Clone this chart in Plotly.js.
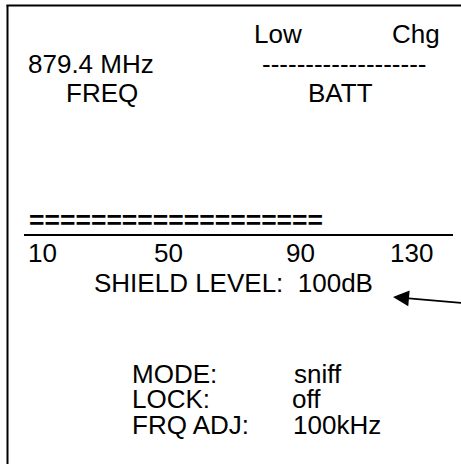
<!DOCTYPE html>
<html>
<head>
<meta charset="utf-8">
<script src="https://cdn.plot.ly/plotly-3.0.1.min.js"></script>
<style>
html,body{margin:0;padding:0;background:#fff;}
#chart{width:461px;height:464px;}
</style>
</head>
<body>
<div id="chart"></div>
<script>
// ---- data ----
const frequencyText = '879.4 MHz';
const frequencyLabel = 'FREQ';
const batteryEnds = ['Low', 'Chg'];
const batteryGauge = '-------------------';
const batteryLabel = 'BATT';
const shieldBar = '===================';
const scaleTicks = ['10', '50', '90', '130'];
const shieldLevelText = 'SHIELD LEVEL:  100dB';
const settingNames = ['MODE:', 'LOCK:', 'FRQ ADJ:'];
const settingValues = ['sniff', 'off', '100kHz'];

// ---- layout helpers ----
const FONT = {family: 'Liberation Sans, Arial, sans-serif', size: 26, color: '#000'};
function txt(t, x, y, extra) {
  return Object.assign({
    text: t, x: x, y: y, xref: 'x', yref: 'y',
    xanchor: 'left', yanchor: 'middle', showarrow: false,
    font: FONT, borderpad: 0, align: 'left'
  }, extra || {});
}

const annotations = [];
const battX = [253, 391];
batteryEnds.forEach((t, i) => annotations.push(txt(t, battX[i], 34)));
annotations.push(txt(frequencyText, 27, 64));
annotations.push(txt(batteryGauge, 261, 64));
annotations.push(txt(frequencyLabel, 65, 93));
annotations.push(txt(batteryLabel, 307, 93));
annotations.push(txt(shieldBar, 28, 220, {font: Object.assign({}, FONT, {size: 26.5, weight: 'bold'})}));
const tickX = [27, 153, 285, 389];
scaleTicks.forEach((t, i) => annotations.push(txt(t, tickX[i], 252.5)));
annotations.push(txt(shieldLevelText, 93, 282.5));
const rowY = [374, 399, 425];
const valX = [293, 291, 292];
settingNames.forEach((t, i) => {
  annotations.push(txt(t, 131, rowY[i]));
  annotations.push(txt(settingValues[i], valX[i], rowY[i]));
});
// pointer arrow
annotations.push({
  x: 393, y: 297, xref: 'x', yref: 'y',
  ax: 463, ay: 303, axref: 'x', ayref: 'y',
  showarrow: true, arrowhead: 2, arrowsize: 2, arrowwidth: 1.6,
  arrowcolor: '#000', text: ''
});

const shapes = [
  {type: 'line', xref: 'x', yref: 'y', x0: 7.5, x1: 7.5, y0: 5, y1: 470, line: {color: '#000', width: 2}},
  {type: 'line', xref: 'x', yref: 'y', x0: 6.5, x1: 470, y0: 5.5, y1: 5.5, line: {color: '#000', width: 2}},
  {type: 'line', xref: 'x', yref: 'y', x0: 24, x1: 453, y0: 235, y1: 235, line: {color: '#000', width: 2}}
];

const layout = {
  width: 461, height: 464,
  margin: {l: 0, r: 0, t: 0, b: 0, pad: 0},
  paper_bgcolor: '#fff', plot_bgcolor: '#fff',
  showlegend: false,
  xaxis: {range: [0, 461], visible: false, fixedrange: true},
  yaxis: {range: [464, 0], visible: false, fixedrange: true},
  annotations: annotations,
  shapes: shapes
};

Plotly.newPlot('chart', [{x: [], y: [], type: 'scatter', hoverinfo: 'skip'}], layout, {staticPlot: true, displayModeBar: false});
</script>
</body>
</html>
